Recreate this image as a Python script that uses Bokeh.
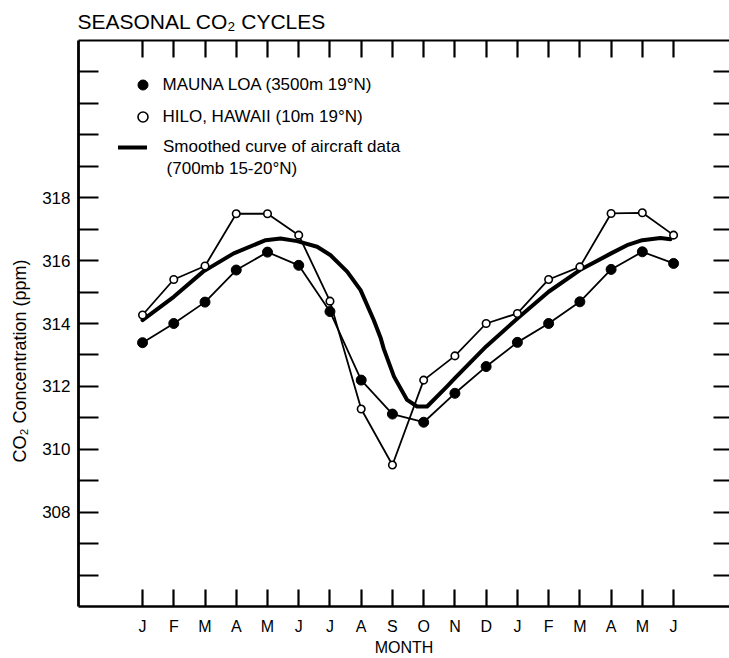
from bokeh.plotting import figure
from bokeh.models import (Range1d, LinearAxis, FixedTicker, Label, Legend, LegendItem,
                          Title, CustomLabelingPolicy)
from bokeh.embed import file_html
from bokeh.resources import INLINE

# ---------------- data ----------------
months = list(range(18))
month_labels = ["J", "F", "M", "A", "M", "J", "J", "A", "S", "O", "N", "D",
                "J", "F", "M", "A", "M", "J"]
mauna_loa = [313.39, 314.00, 314.68, 315.70, 316.27, 315.85, 314.38, 312.20, 311.12,
             310.86, 311.78, 312.63, 313.40, 314.00, 314.69, 315.72, 316.28, 315.91]
hilo = [314.27, 315.40, 315.83, 317.49, 317.49, 316.81, 314.71, 311.28, 309.50,
        312.20, 312.97, 314.00, 314.32, 315.40, 315.80, 317.50, 317.52, 316.81]
curve_month = [0.0, 1.0, 1.94, 2.92, 3.94, 4.42, 4.95, 5.59, 6.02, 6.55, 6.98, 7.40,
               7.62, 7.72, 8.05, 8.47, 8.79, 9.11, 9.75, 10.0, 11.0, 12.0, 13.0, 14.0,
               15.0, 15.51, 16.0, 16.58, 16.9]
curve_ppm = [314.11, 314.85, 315.65, 316.23, 316.65, 316.70, 316.62, 316.44, 316.17,
             315.65, 315.06, 314.11, 313.55, 313.20, 312.31, 311.57, 311.36, 311.36,
             312.00, 312.26, 313.27, 314.16, 315.01, 315.70, 316.23, 316.49, 316.65,
             316.72, 316.68]
y_ticks = list(range(306, 323))
y_tick_labels = {308: "308", 310: "310", 312: "312", 314: "314", 316: "316", 318: "318"}

FONT = "Liberation Sans"

p = figure(width=729, height=658, output_backend="svg", toolbar_location=None,
           x_range=Range1d(-2.05, 18.79), y_range=Range1d(305, 323),
           min_border_left=78, min_border_right=0, min_border_top=40, min_border_bottom=52)
p.outline_line_color = None
p.xgrid.grid_line_color = None
p.ygrid.grid_line_color = None
p.background_fill_color = "white"
p.border_fill_color = "white"

# title
p.title.text = "SEASONAL CO₂ CYCLES"
p.title.text_font = FONT
p.title.text_font_size = "21px"
p.title.text_font_style = "normal"
p.title.text_color = "black"
p.title.text_line_height = 1.0
p.title.align = "left"
p.title.vertical_align = "top"
p.title.standoff = 12
p.title.offset = -1

hide_all = CustomLabelingPolicy(code="for (const i of indices) { indices.unset(i) } return indices")
keep_idx = [y_ticks.index(t) for t in y_tick_labels]
keep_some = CustomLabelingPolicy(args=dict(keep=keep_idx),
                                 code="for (const i of indices) { if (!keep.includes(i)) indices.unset(i) } return indices")

# bottom axis
xa = p.xaxis[0]
xa.ticker = FixedTicker(ticks=months)
xa.major_label_overrides = {m: lab for m, lab in zip(months, month_labels)}
xa.major_tick_in = 17
xa.major_tick_out = 0
xa.minor_tick_in = 0
xa.minor_tick_out = 0
xa.axis_line_width = 2.5
xa.major_tick_line_width = 2.2
xa.major_label_text_font = FONT
xa.major_label_text_font_size = "16px"
xa.major_label_text_color = "black"
xa.major_label_standoff = 11
xa.axis_label = "MONTH"
xa.axis_label_text_font = FONT
xa.axis_label_text_font_size = "16px"
xa.axis_label_text_font_style = "normal"
xa.axis_label_text_color = "black"
xa.axis_label_standoff = 1

# left axis
ya = p.yaxis[0]
ya.ticker = FixedTicker(ticks=y_ticks)
ya.major_label_overrides = y_tick_labels
ya.major_label_policy = keep_some
ya.major_tick_in = 20
ya.major_tick_out = 0
ya.minor_tick_in = 0
ya.minor_tick_out = 0
ya.axis_line_width = 2.8
ya.major_tick_line_width = 2.2
ya.major_label_text_font = FONT
ya.major_label_text_font_size = "17px"
ya.major_label_text_color = "black"
ya.major_label_standoff = 8

# top axis
top = LinearAxis(ticker=FixedTicker(ticks=months), major_tick_in=17, major_tick_out=0,
                 minor_tick_in=0, minor_tick_out=0, axis_line_width=2.2,
                 major_tick_line_width=2.2, major_label_text_font_size="0px",
                 major_label_standoff=0, major_label_policy=hide_all)
p.add_layout(top, "above")

# right axis (frame edge lies at the page edge)
right = LinearAxis(ticker=FixedTicker(ticks=y_ticks), major_tick_in=16, major_tick_out=0,
                   minor_tick_in=0, minor_tick_out=0, axis_line_color=None,
                   major_tick_line_width=2.2, major_label_text_font_size="0px",
                   major_label_standoff=0, major_label_policy=hide_all)
p.add_layout(right, "right")

# y-axis title
ytitle = Title(text="CO₂ Concentration  (ppm)", text_font=FONT, text_font_size="18px",
               text_font_style="normal", text_color="black", text_line_height=1.0,
               align="left", vertical_align="top", standoff=16, offset=144)
p.add_layout(ytitle, "left")

# smoothed aircraft curve
curve_r = p.line(curve_month, curve_ppm, line_color="black", line_width=4,
                 line_join="round", line_cap="round")

# station series
p.line(months, hilo, line_color="black", line_width=1.8)
p.line(months, mauna_loa, line_color="black", line_width=1.8)
ml_r = p.scatter(months, mauna_loa, marker="circle", size=10, fill_color="black",
                 line_color="black", line_width=1)
hi_r = p.scatter(months, hilo, marker="circle", size=7.5, fill_color="white",
                 line_color="black", line_width=1.6)

# legends
leg1 = Legend(items=[LegendItem(label="MAUNA LOA (3500m 19°N)", renderers=[ml_r]),
                     LegendItem(label="HILO, HAWAII (10m 19°N)", renderers=[hi_r])],
              location=(51.5, 477), glyph_width=25, glyph_height=25, label_height=25,
              spacing=7, padding=0, margin=0, label_standoff=8,
              label_text_font=FONT, label_text_font_size="17px", label_text_color="black",
              background_fill_alpha=0, border_line_alpha=0)
leg2 = Legend(items=[LegendItem(label="Smoothed curve of aircraft data", renderers=[curve_r])],
              location=(40, 449), glyph_width=29, glyph_height=20, label_height=20,
              padding=0, margin=0, label_standoff=16,
              label_text_font=FONT, label_text_font_size="17px", label_text_color="black",
              background_fill_alpha=0, border_line_alpha=0)
p.add_layout(leg1)
p.add_layout(leg2)

p.add_layout(Label(x=0.77, y=318.93, text="(700mb 15-20°N)", text_font=FONT,
                   text_font_size="17px", text_align="left", text_baseline="alphabetic",
                   text_color="black"))

open("out.html", "w").write(file_html(p, INLINE))
